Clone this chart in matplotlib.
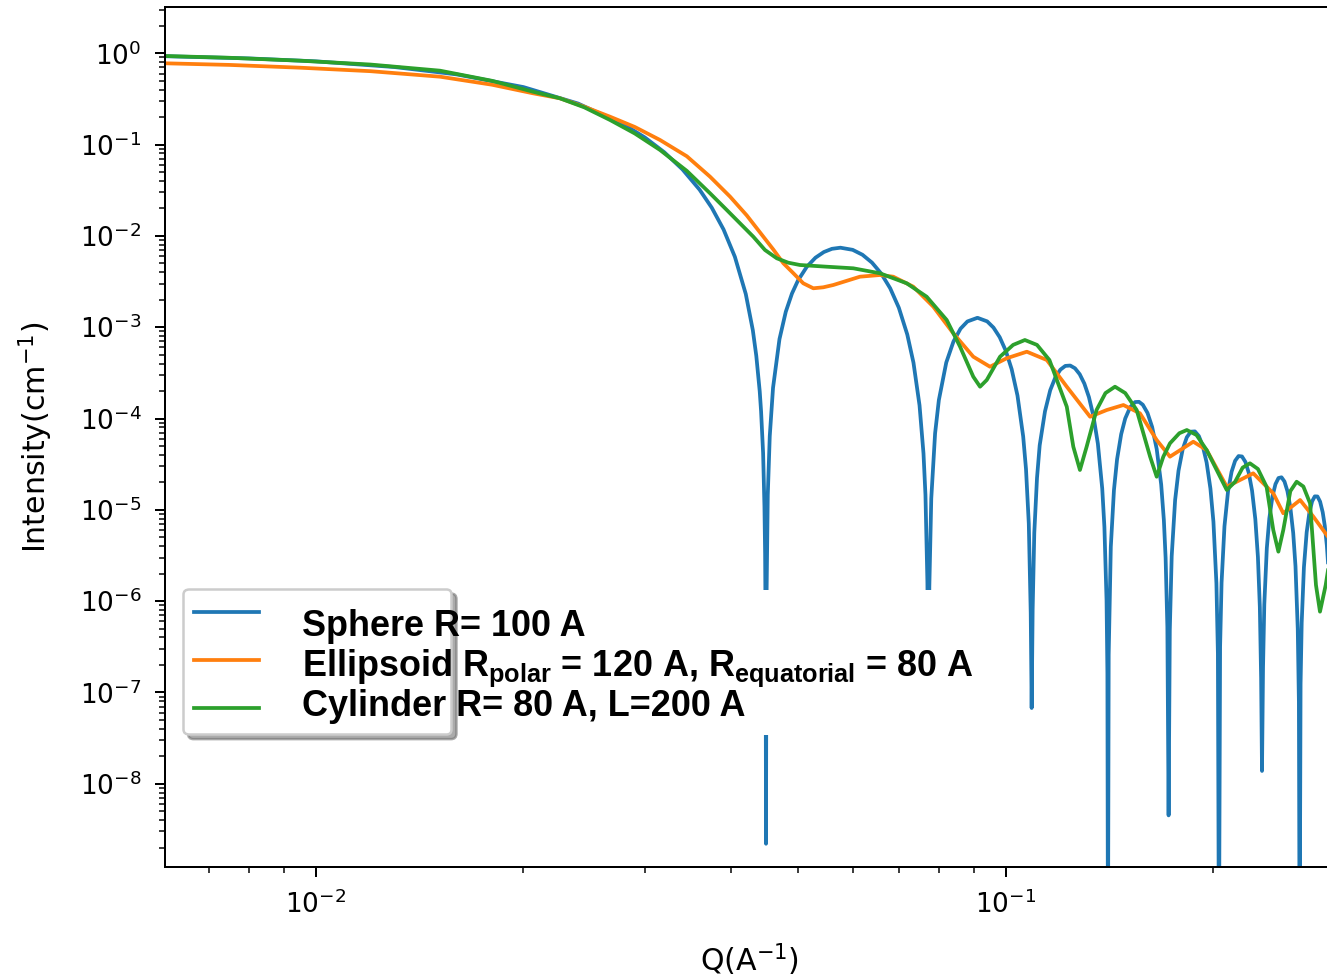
import numpy as np
import matplotlib
matplotlib.use('Agg')
import matplotlib.pyplot as plt
from matplotlib.patches import Rectangle
from matplotlib.ticker import LogLocator, NullFormatter, FixedLocator

# custom mathtext set only used by the legend overlay text
plt.rcParams['mathtext.bf'] = 'Liberation Sans:bold'
plt.rcParams['mathtext.rm'] = 'Liberation Sans'

# --- data (Q in 1/A, intensity in 1/cm) ---
q_sphere = [0.00605, 0.008, 0.010, 0.013, 0.016, 0.020, 0.024, 0.028, 0.030, 0.032,
            0.034, 0.036, 0.0375, 0.039, 0.0405, 0.042, 0.043, 0.0435, 0.044, 0.0442,
            0.0445, 0.0447, 0.0448, 0.04488, 0.044934,
            0.045, 0.0452, 0.0455, 0.046, 0.047, 0.048, 0.049, 0.050, 0.0515, 0.053,
            0.0545, 0.056, 0.0576, 0.060, 0.062, 0.064, 0.066, 0.068, 0.070, 0.072,
            0.0735, 0.075, 0.076, 0.0765, 0.077, 0.07725,
            0.0775, 0.078, 0.079, 0.080, 0.082, 0.084, 0.086, 0.088, 0.091, 0.094,
            0.096, 0.098, 0.100, 0.102, 0.104, 0.106, 0.107, 0.108, 0.1087, 0.10904,
            0.1094, 0.110, 0.111, 0.112, 0.114, 0.116, 0.118, 0.120, 0.122, 0.124,
            0.126, 0.128, 0.130, 0.132, 0.134, 0.136, 0.138, 0.139, 0.140, 0.1404, 0.14066,
            0.141, 0.142, 0.1435, 0.145, 0.147, 0.149, 0.1515, 0.154, 0.156, 0.158,
            0.1605, 0.163, 0.1655, 0.168, 0.1695, 0.1705, 0.1715, 0.17221,
            0.1729, 0.174, 0.176, 0.178, 0.1805, 0.183, 0.1855, 0.188, 0.1905, 0.193,
            0.1955, 0.198, 0.200, 0.202, 0.203, 0.20371,
            0.2045, 0.2055, 0.2075, 0.210, 0.2125, 0.215, 0.2175, 0.220, 0.2225, 0.225,
            0.2275, 0.230, 0.232, 0.2335, 0.2345, 0.23519,
            0.236, 0.237, 0.239, 0.241, 0.2435, 0.246, 0.2485, 0.251, 0.2535, 0.256,
            0.2585, 0.261, 0.263, 0.265, 0.266, 0.26666,
            0.2675, 0.2685, 0.2705, 0.273, 0.2755, 0.278, 0.2805, 0.283, 0.2855, 0.288,
            0.290, 0.292, 0.294, 0.295]
i_sphere = [0.929, 0.879, 0.8164, 0.7071, 0.5873, 0.4265, 0.2816, 0.1651, 0.1195, 0.08244,
            0.05354, 0.03209, 0.02032, 0.01175, 5.904e-3, 2.312e-3, 9.278e-4, 4.861e-4, 1.991e-4, 1.203e-4,
            4.21e-5, 1.088e-5, 3.31e-6, 4.25e-7, 2.2e-9,
            9.07e-7, 1.451e-5, 6.403e-5, 2.169e-4, 7.405e-4, 1.476e-3, 2.338e-3, 3.255e-3, 4.599e-3, 5.773e-3,
            6.656e-3, 7.221e-3, 7.426e-3, 7.038e-3, 6.213e-3, 5.099e-3, 3.868e-3, 2.672e-3, 1.633e-3, 8.309e-4,
            4.090e-4, 1.397e-4, 4.150e-5, 1.459e-5, 1.605e-6, 1e-7,
            1.448e-6, 1.333e-5, 6.871e-5, 1.592e-4, 4.101e-4, 6.972e-4, 9.636e-4, 1.156e-3, 1.268e-3, 1.158e-3,
            9.899e-4, 7.782e-4, 5.541e-4, 3.466e-4, 1.784e-4, 6.349e-5, 2.794e-5, 7.086e-6, 7.407e-7, 6.75e-8,
            8.016e-7, 5.588e-6, 2.227e-5, 5.082e-5, 1.197e-4, 2.037e-4, 2.821e-4, 3.427e-4, 3.768e-4, 3.803e-4,
            3.548e-4, 3.056e-4, 2.413e-4, 1.717e-4, 1.063e-4, 5.302e-5, 1.706e-5, 6.492e-6, 1.014e-6, 1.63e-7, 1e-10,
            2.588e-7, 3.918e-6, 1.646e-5, 3.576e-5, 6.729e-5, 1.000e-4, 1.333e-4, 1.514e-4, 1.523e-4, 1.415e-4,
            1.151e-4, 8.077e-5, 4.635e-5, 1.891e-5, 7.738e-6, 2.971e-6, 5.213e-7, 4.5e-9,
            4.805e-7, 3.110e-6, 1.281e-5, 2.682e-5, 4.601e-5, 6.233e-5, 7.172e-5, 7.225e-5, 6.424e-5, 4.997e-5,
            3.297e-5, 1.708e-5, 7.389e-6, 1.564e-6, 2.675e-7, 1e-10,
            3.173e-7, 1.589e-6, 6.601e-6, 1.598e-5, 2.614e-5, 3.440e-5, 3.878e-5, 3.839e-5, 3.350e-5, 2.547e-5,
            1.625e-5, 7.913e-6, 3.053e-6, 8.599e-7, 1.430e-7, 1.38e-8,
            1.875e-7, 9.22e-7, 3.799e-6, 8.025e-6, 1.394e-5, 1.912e-5, 2.228e-5, 2.271e-5, 2.042e-5, 1.605e-5,
            1.068e-5, 5.575e-6, 2.410e-6, 4.955e-7, 7.93e-8, 1e-10,
            1.234e-7, 5.797e-7, 2.347e-6, 5.680e-6, 9.334e-6, 1.237e-5, 1.404e-5, 1.400e-5, 1.230e-5, 9.399e-6,
            6.691e-6, 4.075e-6, 1.928e-6, 1.118e-6]

q_ellipsoid = [0.00605, 0.0075, 0.00949, 0.012, 0.01514, 0.018, 0.02065, 0.02259, 0.0245, 0.0267,
               0.029, 0.03155, 0.0345, 0.03728, 0.03986, 0.04213, 0.04604, 0.04762, 0.04924, 0.05088,
               0.05262, 0.05439, 0.05625, 0.06148, 0.06573, 0.06871, 0.07346, 0.07853, 0.08394, 0.08974,
               0.09489, 0.1003, 0.1073, 0.1147, 0.1226, 0.1325, 0.1401, 0.1481, 0.1565, 0.1655,
               0.1730, 0.1870, 0.1955, 0.2091, 0.2284, 0.2442, 0.2525, 0.2671, 0.2792, 0.2919, 0.296]
i_ellipsoid = [0.777, 0.746, 0.6955, 0.637, 0.5542, 0.453, 0.3646, 0.3214, 0.260, 0.2021,
               0.156, 0.1123, 0.0745, 0.04451, 0.02688, 0.0168, 7.1e-3, 5.01e-3, 3.895e-3, 3.027e-3,
               2.668e-3, 2.735e-3, 2.899e-3, 3.574e-3, 3.730e-3, 3.574e-3, 2.778e-3, 1.677e-3, 8.58e-4, 4.75e-4,
               3.69e-4, 4.565e-4, 5.39e-4, 4.37e-4, 2.23e-4, 1.046e-4, 1.239e-4, 1.405e-4, 1.140e-4, 5.81e-5,
               3.82e-5, 5.57e-5, 4.52e-5, 1.79e-5, 2.51e-5, 1.516e-5, 9.16e-6, 1.28e-5, 8.40e-6, 5.30e-6, 4.6e-6]

q_cylinder = [0.00605, 0.0075, 0.00949, 0.012, 0.01514, 0.018, 0.02065, 0.02259, 0.0245, 0.0267,
              0.029, 0.03155, 0.0345, 0.03728, 0.03942, 0.04307, 0.04478, 0.04658, 0.0484, 0.05032,
              0.05501, 0.06013, 0.06573, 0.07186, 0.07681, 0.08212, 0.08587, 0.08974, 0.09179, 0.09386,
              0.09812, 0.1025, 0.1066, 0.111, 0.1157, 0.1226, 0.1253, 0.1281, 0.1310, 0.1354,
              0.1395, 0.1440, 0.149, 0.1548, 0.1619, 0.1655, 0.1692, 0.1730, 0.1785, 0.1830,
              0.189, 0.1955, 0.2056, 0.2091, 0.2150, 0.2205, 0.2259, 0.232, 0.2388, 0.2442,
              0.2484, 0.2525, 0.2585, 0.2640, 0.270, 0.2761, 0.2816, 0.2854, 0.2909, 0.2951]
i_cylinder = [0.934, 0.893, 0.830, 0.753, 0.645, 0.500, 0.3797, 0.3214, 0.256, 0.1860,
              0.1324, 0.0873, 0.0515, 0.02928, 0.01922, 9.800e-3, 7.009e-3, 5.685e-3, 5.088e-3, 4.801e-3,
              4.599e-3, 4.417e-3, 3.895e-3, 3.027e-3, 2.158e-3, 1.1995e-3, 6.115e-4, 2.870e-4, 2.230e-4, 2.64e-4,
              4.75e-4, 6.4e-4, 7.24e-4, 6.4e-4, 4.37e-4, 1.346e-4, 4.91e-5, 2.73e-5, 4.91e-5, 1.239e-4,
              1.9e-4, 2.23e-4, 1.9e-4, 1.239e-4, 3.82e-5, 2.304e-5, 3.82e-5, 5.35e-5, 6.9e-5, 7.48e-5,
              6.6e-5, 4.52e-5, 2.12e-5, 1.648e-5, 2.03e-5, 2.9e-5, 3.23e-5, 2.8e-5, 1.79e-5, 6.01e-6,
              3.48e-6, 6.01e-6, 1.6e-5, 2.03e-5, 1.8e-5, 1.178e-5, 1.50e-6, 7.66e-7, 1.50e-6, 3.0e-6]

y_major = [1e-8, 1e-7, 1e-6, 1e-5, 1e-4, 1e-3, 1e-2, 1e-1, 1e0]
x_major = [1e-2, 1e-1]

labels = [r'Sphere R= 100 A',
          r'Ellipsoid $\mathbf{R}_{\mathbf{polar}}$ = 120 A, $\mathbf{R}_{\mathbf{equatorial}}$ = 80 A',
          r'Cylinder R= 80 A, L=200 A']

fig = plt.figure(figsize=(1327 / 180, 977 / 180), dpi=180)
ax = fig.add_axes([165 / 1327, 110 / 977, 1165 / 1327, 860 / 977])

l1, = ax.plot(q_sphere, i_sphere, color='C0', lw=1.5)
l2, = ax.plot(q_ellipsoid, i_ellipsoid, color='C1', lw=1.5)
l3, = ax.plot(q_cylinder, i_cylinder, color='C2', lw=1.5)

ax.set_xscale('log'); ax.set_yscale('log')
ax.set_xlim(0.006047, 0.2951)
ax.set_ylim(1.224e-9, 3.214)
ax.yaxis.set_major_locator(FixedLocator(y_major))
ax.xaxis.set_major_locator(FixedLocator(x_major))
ax.yaxis.set_minor_locator(LogLocator(base=10, subs=np.arange(2, 10), numticks=20))
ax.yaxis.set_minor_formatter(NullFormatter())
ax.xaxis.set_minor_formatter(NullFormatter())
ax.tick_params(which='major', length=4, pad=5.5, labelsize=10.5)
ax.tick_params(which='minor', length=2.3)

ax.set_xlabel(r'Q(A$^{-1}$)', fontsize=12)
ax.set_ylabel(r'Intensity(cm$^{-1}$)', fontsize=12)
ax.xaxis.set_label_coords(0.502, -0.0865)
ax.yaxis.set_label_coords(-0.094, 0.5)

# legend frame with handles only; the big labels are an overlay
leg = ax.legend([l1, l2, l3], ['', '', ''], loc='lower left', bbox_to_anchor=(0.0155, 0.1545),
                borderaxespad=0, fontsize=11, handlelength=2.36, handletextpad=6.6,
                labelspacing=0.72, borderpad=0.4, shadow={'color': '0.45', 'alpha': 0.6},
                fancybox=True, framealpha=1, edgecolor='0.8')

ax.add_patch(Rectangle((0.24, 0.1535), 0.47, 0.1686, transform=ax.transAxes,
                       facecolor='white', edgecolor='none', zorder=4))
for y, lab in zip([0.2686, 0.2221, 0.1756], labels):
    ax.text(0.1176, y, lab, transform=ax.transAxes, fontsize=14.4, fontweight='bold',
            family=['Liberation Sans', 'DejaVu Sans'], math_fontfamily='custom',
            va='baseline', ha='left', zorder=6)

fig.savefig('out.png', dpi=180)
